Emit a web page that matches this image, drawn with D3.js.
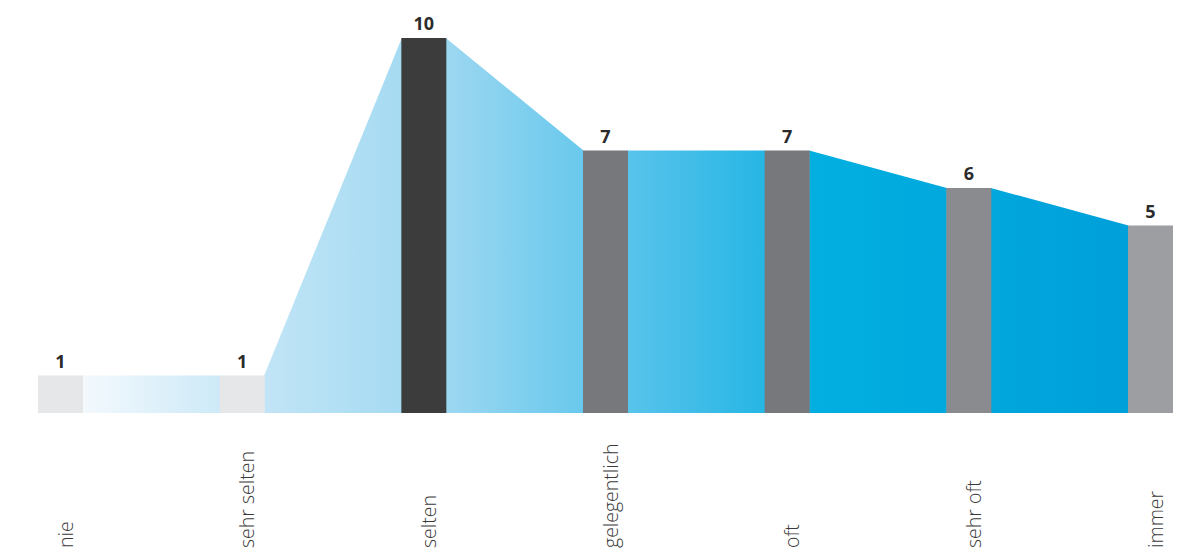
<!DOCTYPE html>
<html><head><meta charset="utf-8">
<script src="https://cdn.jsdelivr.net/npm/d3@7"></script>
<style>body{margin:0;background:#fff}svg{display:block}</style>
</head><body><svg id="c" width="1177" height="558"></svg>
<script>
const categories = ["nie","sehr selten","selten","gelegentlich","oft","sehr oft","immer"];
const values = [1,1,10,7,7,6,5];
const barColors = ["#e6e7e8","#e6e7e8","#3c3c3d","#77787b","#77787b","#8a8b8f","#9d9ea2"];
const gradStops = [
  {o:0, c:"#f3f9fd"},{o:0.17,c:"#c2e5f6"},{o:0.35,c:"#9cd7f1"},{o:0.52,c:"#58c4eb"},
  {o:0.65,c:"#28b6e5"},{o:0.70,c:"#02afe0"},{o:1,c:"#00a0da"}];

const svg = d3.select("#c");
const bw = 45;
const x = d3.scalePoint().domain(categories).range([60.5, 1150.5]);
const y = d3.scaleLinear().domain([0,10]).range([413, 38]);
const font = "'Open Sans', 'Noto Sans', sans-serif";

const defs = svg.append("defs");
const g = defs.append("linearGradient").attr("id","grad").attr("gradientUnits","userSpaceOnUse")
  .attr("x1", x(categories[0])+bw/2).attr("x2", x(categories[categories.length-1])-bw/2).attr("y1",0).attr("y2",0);
g.selectAll("stop").data(gradStops).join("stop").attr("offset",d=>d.o).attr("stop-color",d=>d.c);

// areas between bars
const segs = d3.pairs(categories.map((c,i)=>({c,v:values[i]})));
const area = d3.area().x(d=>d.x).y0(y(0)).y1(d=>d.y);
svg.selectAll("path.seg").data(segs).join("path").attr("class","seg")
  .attr("fill","url(#grad)")
  .attr("d", ([a,b]) => area([{x:x(a.c)+bw/2-0.5, y:y(a.v)},{x:x(b.c)-bw/2+0.5, y:y(b.v)}]));

// bars
svg.selectAll("rect.bar").data(categories).join("rect").attr("class","bar")
  .attr("x", d=>x(d)-bw/2).attr("width", bw)
  .attr("y", (d,i)=>y(values[i])).attr("height",(d,i)=>y(0)-y(values[i]))
  .attr("fill",(d,i)=>barColors[i]);

// value labels
svg.selectAll("text.val").data(categories).join("text").attr("class","val")
  .attr("x", d=>x(d)).attr("y",(d,i)=>y(values[i])-8)
  .attr("text-anchor","middle").attr("font-family",font).attr("font-weight",700)
  .attr("font-size",18).attr("fill","#2b2b2b").text((d,i)=>values[i]);

// category labels
svg.selectAll("text.cat").data(categories).join("text").attr("class","cat")
  .attr("transform", d=>`translate(${x(d)+12},548) rotate(-90)`)
  .attr("text-anchor","start").attr("font-family",font).attr("font-weight",300)
  .attr("font-size",19.5).attr("fill","#3a3a3a").text(d=>d);
</script></body></html>
